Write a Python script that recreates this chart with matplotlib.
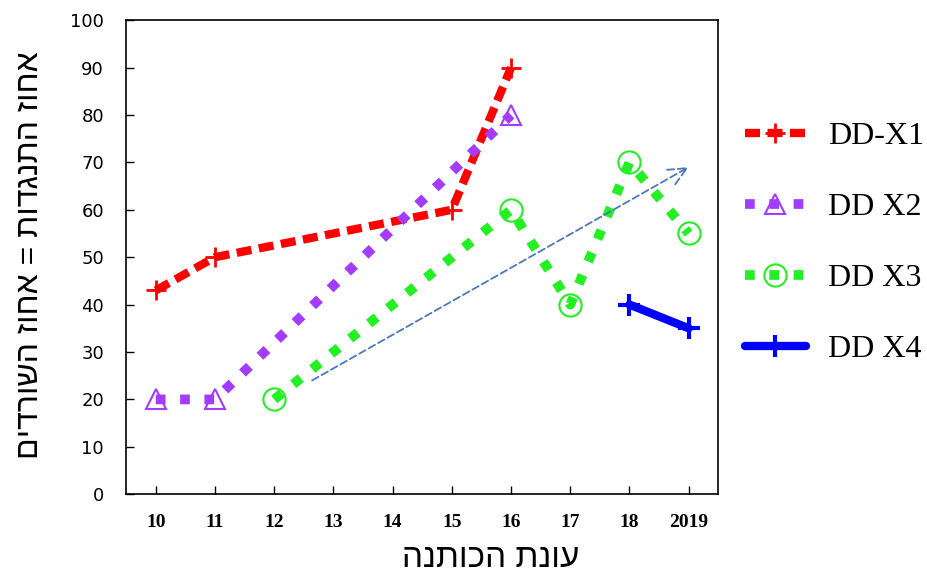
import numpy as np
import matplotlib
matplotlib.use('Agg')
import matplotlib.pyplot as plt

# ==================== 数据 ====================
seasons = ['10', '11', '12', '13', '14', '15', '16', '17', '18', '2019']
nan = np.nan
dd_x1 = [43, 50, nan, nan, nan, 60, 90, nan, nan, nan]
dd_x2 = [20, 20, nan, nan, nan, nan, 80, nan, nan, nan]
dd_x3 = [nan, nan, 20, nan, nan, nan, 60, 40, 70, 55]
dd_x4 = [nan, nan, nan, nan, nan, nan, nan, nan, 40, 35]
trend_start = (2.64, 24)
trend_end = (9.0, 69)

y_label = 'אחוז התנגדות = אחוז השורדים'
x_label = 'עונת הכותנה'


def rtl(s):
    """matplotlib 不做双向排版，手动反转希伯来文"""
    return s[::-1]


def connected(vals):
    x = np.arange(len(vals))
    v = np.array(vals, dtype=float)
    m = ~np.isnan(v)
    return x[m], v[m]


fig = plt.figure(figsize=(9.28, 5.76), dpi=100)
ax = fig.add_axes([0.136, 0.142, 0.638, 0.823])

x, y = connected(dd_x1)
ax.plot(x, y, color='#FF0000', lw=6, dashes=(1.8, 0.9), dash_capstyle='butt',
        marker='+', ms=15, mew=2, label='DD-X1')
x, y = connected(dd_x2)
ax.plot(x, y, color='#A43CFF', lw=7, dashes=(1, 1.5), dash_capstyle='butt',
        marker='^', ms=15, mew=1.5, mfc='none', label='DD X2')
x, y = connected(dd_x3)
ax.plot(x, y, color='#22F022', lw=7, dashes=(1, 1.5), dash_capstyle='butt',
        marker='o', ms=16, mew=1.5, mfc='none', label='DD X3')
x, y = connected(dd_x4)
ax.plot(x, y, color='#0000FF', lw=6, solid_capstyle='round',
        marker='+', ms=16, mew=3, label='DD X4')

ax.annotate('', xy=trend_end, xytext=trend_start,
            arrowprops=dict(arrowstyle='->,head_length=1.3,head_width=0.6',
                            color='#4A78C0', lw=1.3, linestyle=(0, (4, 2)),
                            shrinkA=0, shrinkB=0))

ax.set_xlim(-0.5, 9.5)
ax.set_ylim(0, 100)
ax.set_yticks(range(0, 101, 10))
ax.set_xticks(range(len(seasons)))
ax.set_xticklabels(seasons, family='Liberation Serif', fontweight='bold', fontsize=14)
for t in ax.get_yticklabels():
    t.set_family('DejaVu Sans')
    t.set_fontsize(13)
ax.tick_params(direction='in', length=6, width=1)
ax.tick_params(axis='y', pad=16)
ax.tick_params(axis='x', pad=14)
ax.grid(False)
for s in ax.spines.values():
    s.set_linewidth(1.2)

ax.set_ylabel(rtl(y_label), family='Liberation Sans', fontsize=23,
              ha='center', va='center')
ax.yaxis.set_label_coords(-0.162, 0.505)
ax.set_xlabel(rtl(x_label), family='Liberation Sans', fontsize=24,
              ha='center', va='center')
ax.xaxis.set_label_coords(0.615, -0.135)

leg = ax.legend(loc='center left', bbox_to_anchor=(1.045, 0.53), frameon=False,
                prop={'family': 'Liberation Serif', 'size': 23},
                handlelength=1.9, labelspacing=1.3, handletextpad=0.7,
                borderpad=0, borderaxespad=0)

fig.savefig('out.png', dpi=100, facecolor='white')
